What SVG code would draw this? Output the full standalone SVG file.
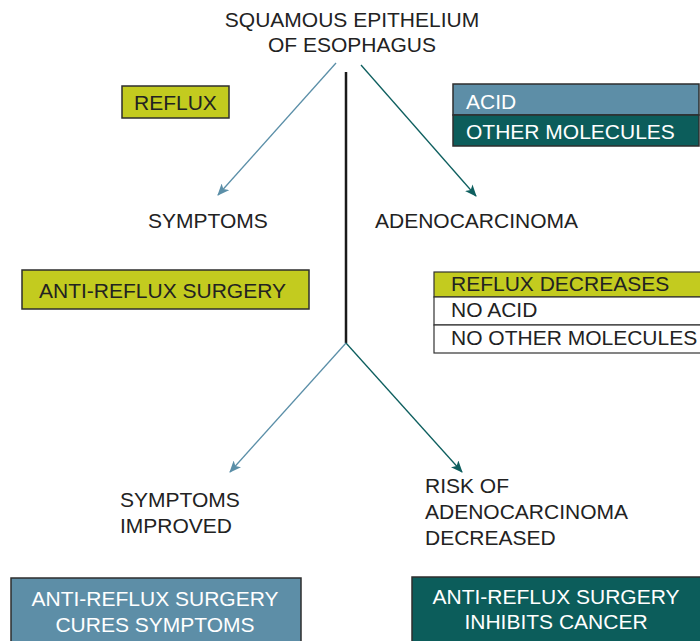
<svg xmlns="http://www.w3.org/2000/svg" width="700" height="641" viewBox="0 0 700 641">
<style>
text{font-family:"Liberation Sans",Arial,sans-serif;font-size:21px;fill:#222}
.w{fill:#fff}
.yg{fill:#c3cb1f}
.bl{fill:#5d8ea7}
.tl{fill:#0c5d5b}
.bx{stroke:#2e2e2e;stroke-width:1.5}
.tb{stroke:#333;stroke-width:1.2}
.c1{stroke:#5b8fa8;stroke-width:1.3;fill:none}
.c2{stroke:#0e5f5f;stroke-width:1.3;fill:none}
</style>
<defs>
<marker id="ab" viewBox="0 0 12 10" refX="11" refY="5" markerWidth="12" markerHeight="10" markerUnits="userSpaceOnUse" orient="auto">
<path d="M0,0 L12,5 L0,10 L3,5 z" fill="#5b8fa8"/>
</marker>
<marker id="at" viewBox="0 0 12 10" refX="11" refY="5" markerWidth="12" markerHeight="10" markerUnits="userSpaceOnUse" orient="auto">
<path d="M0,0 L12,5 L0,10 L3,5 z" fill="#0e5f5f"/>
</marker>
</defs>
<rect width="700" height="641" fill="#fff"/>

<g id="connectors">
<line x1="346" y1="72" x2="346" y2="343" stroke="#1a1a1a" stroke-width="2.5"/>
<line class="c1" x1="336" y1="63" x2="218" y2="195" marker-end="url(#ab)"/>
<line class="c2" x1="361" y1="65" x2="476" y2="196" marker-end="url(#at)"/>
<line class="c1" x1="346" y1="343" x2="230" y2="472" marker-end="url(#ab)"/>
<line class="c2" x1="346" y1="343" x2="462" y2="472" marker-end="url(#at)"/>
</g>

<g id="title">
<text x="352" y="27" text-anchor="middle">SQUAMOUS EPITHELIUM</text>
<text x="352" y="52" text-anchor="middle">OF ESOPHAGUS</text>
</g>

<g id="reflux">
<rect class="yg bx" x="122" y="86" width="107" height="32"/>
<text x="134" y="110">REFLUX</text>
</g>

<g id="acid-molecules">
<rect class="bl bx" x="453" y="84" width="246" height="31"/>
<rect class="tl bx" x="453" y="115" width="246" height="31"/>
<text class="w" x="466" y="109">ACID</text>
<text class="w" x="466" y="139">OTHER MOLECULES</text>
</g>

<g id="symptoms">
<text x="148" y="228">SYMPTOMS</text>
</g>

<g id="adenocarcinoma">
<text x="375" y="228">ADENOCARCINOMA</text>
</g>

<g id="anti-reflux-surgery">
<rect class="yg bx" x="22" y="270" width="287" height="39"/>
<text x="39" y="298">ANTI-REFLUX SURGERY</text>
</g>

<g id="reflux-decreases">
<rect class="yg tb" x="434" y="272" width="270" height="25"/>
<rect class="tb" fill="#fff" x="434" y="297" width="270" height="28"/>
<rect class="tb" fill="#fff" x="434" y="325" width="270" height="28"/>
<text x="451" y="291">REFLUX DECREASES</text>
<text x="451" y="317">NO ACID</text>
<text x="451" y="345">NO OTHER MOLECULES</text>
</g>

<g id="symptoms-improved">
<text x="120" y="507">SYMPTOMS</text>
<text x="120" y="533">IMPROVED</text>
</g>

<g id="risk-decreased">
<text x="425" y="493">RISK OF</text>
<text x="425" y="519">ADENOCARCINOMA</text>
<text x="425" y="545">DECREASED</text>
</g>

<g id="cures-symptoms">
<rect class="bl bx" x="11" y="578" width="290" height="66"/>
<text class="w" x="155" y="606" text-anchor="middle">ANTI-REFLUX SURGERY</text>
<text class="w" x="155" y="632" text-anchor="middle">CURES SYMPTOMS</text>
</g>

<g id="inhibits-cancer">
<rect class="tl bx" x="412" y="577" width="292" height="67"/>
<text class="w" x="556" y="604" text-anchor="middle">ANTI-REFLUX SURGERY</text>
<text class="w" x="556" y="629" text-anchor="middle">INHIBITS CANCER</text>
</g>
</svg>
